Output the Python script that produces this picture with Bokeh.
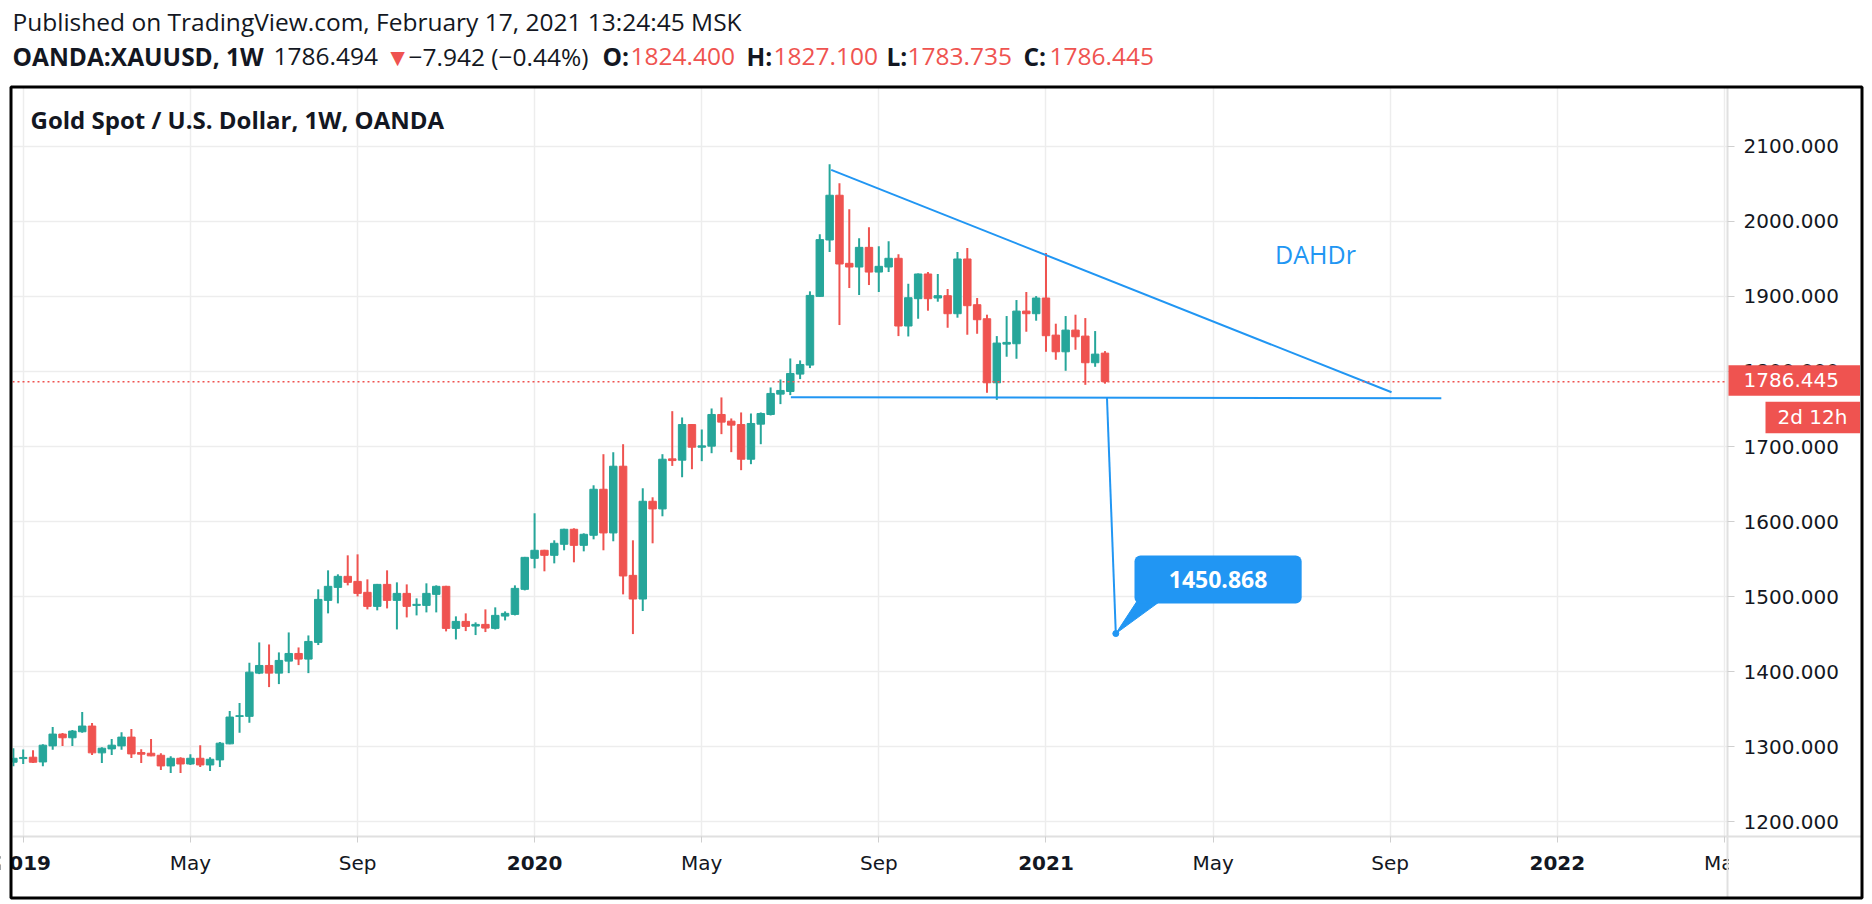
import pandas as pd
from bokeh.plotting import figure
from bokeh.models import (Label, BoxAnnotation, FixedTicker, NumeralTickFormatter,
                          Range1d, ColumnDataSource, Span, GridBox)
from bokeh.core.properties import value
from bokeh.embed import file_html
from bokeh.resources import INLINE

# ---------------- data (weekly OANDA:XAUUSD candles) -------------
start_week = "2018-12-31"
opens = [1279.5, 1284.4, 1286.2, 1279.9, 1301.3, 1317.0, 1312.1, 1320.1, 1327.7, 1292.0,
         1297.3, 1301.3, 1313.0, 1292.4, 1291.5, 1288.8, 1274.6, 1284.8, 1277.2, 1284.8,
         1275.9, 1282.6, 1304.0, 1340.5, 1340.6, 1398.2, 1408.4, 1398.2, 1414.2, 1424.4,
         1416.9, 1439.1, 1495.1, 1512.4, 1527.1, 1520.4, 1505.8, 1487.1, 1516.4, 1495.1,
         1504.4, 1488.4, 1488.4, 1503.1, 1513.8, 1457.8, 1467.1, 1460.9, 1463.1, 1457.8,
         1474.2, 1476.4, 1509.8, 1551.1, 1561.8, 1555.1, 1569.8, 1589.8, 1568.4, 1581.8,
         1643.1, 1584.9, 1673.8, 1528.4, 1496.9, 1627.1, 1616.9, 1683.6, 1681.8, 1729.3,
         1699.1, 1700.5, 1742.7, 1733.8, 1729.3, 1683.1, 1729.8, 1742.7, 1769.8, 1773.3,
         1796.5, 1808.5, 1900.0, 1975.1, 2034.7, 1944.0, 1939.1, 1965.3, 1932.4, 1939.1,
         1950.7, 1860.5, 1896.9, 1929.8, 1897.8, 1900.9, 1876.9, 1949.8, 1888.9, 1870.2,
         1784.9, 1836.4, 1836.9, 1880.4, 1876.9, 1897.8, 1848.4, 1826.2, 1855.1, 1847.1,
         1811.6, 1824.4]
highs = [1298.2, 1296.4, 1295.5, 1303.6, 1326.3, 1318.3, 1322.3, 1346.4, 1331.7, 1299.6,
         1310.3, 1319.6, 1323.7, 1296.9, 1310.3, 1291.5, 1287.5, 1286.2, 1290.2, 1302.2,
         1286.2, 1306.3, 1347.8, 1358.5, 1412.0, 1439.1, 1436.4, 1425.8, 1452.4, 1432.4,
         1448.4, 1509.8, 1535.1, 1529.8, 1555.1, 1556.4, 1523.1, 1517.0, 1535.1, 1519.1,
         1516.4, 1497.8, 1517.8, 1515.1, 1514.5, 1473.8, 1477.8, 1465.8, 1483.1, 1485.8,
         1480.4, 1515.1, 1553.0, 1611.1, 1562.5, 1575.1, 1590.5, 1591.1, 1584.4, 1648.4,
         1689.8, 1692.4, 1703.1, 1575.1, 1644.4, 1632.4, 1689.8, 1747.1, 1738.7, 1730.0,
         1722.7, 1750.7, 1765.4, 1737.4, 1745.4, 1744.0, 1745.4, 1778.7, 1789.3, 1817.3,
         1814.7, 1906.7, 1982.7, 2076.0, 2050.7, 2016.0, 1977.3, 1992.0, 1966.7, 1973.3,
         1956.0, 1916.8, 1930.5, 1932.4, 1929.8, 1909.8, 1959.1, 1964.4, 1897.8, 1875.6,
         1847.1, 1873.8, 1895.1, 1905.8, 1900.4, 1957.8, 1863.6, 1873.8, 1875.6, 1871.1,
         1853.8, 1827.1]
lows = [1274.1, 1277.2, 1278.6, 1274.1, 1296.0, 1301.3, 1301.3, 1318.8, 1289.3, 1278.6,
        1289.3, 1296.0, 1285.3, 1278.6, 1287.5, 1269.2, 1265.2, 1265.2, 1275.9, 1273.2,
        1267.9, 1273.2, 1303.5, 1318.8, 1332.1, 1396.9, 1379.6, 1383.6, 1398.2, 1408.9,
        1398.2, 1435.6, 1477.8, 1491.1, 1515.1, 1500.4, 1483.1, 1481.8, 1484.4, 1456.4,
        1472.4, 1475.1, 1479.1, 1479.1, 1453.8, 1443.1, 1454.2, 1448.9, 1452.9, 1456.4,
        1468.4, 1475.1, 1508.4, 1537.8, 1533.8, 1544.4, 1561.8, 1545.8, 1560.4, 1576.4,
        1561.8, 1573.8, 1503.1, 1450.2, 1480.9, 1571.1, 1607.1, 1674.2, 1659.1, 1669.8,
        1680.5, 1691.1, 1716.5, 1692.5, 1668.5, 1676.5, 1703.1, 1741.4, 1756.5, 1768.5,
        1789.8, 1804.5, 1899.5, 1959.1, 1861.8, 1911.1, 1901.8, 1915.1, 1905.8, 1932.4,
        1847.1, 1846.6, 1870.2, 1880.9, 1892.9, 1858.2, 1871.6, 1848.9, 1850.2, 1771.6,
        1762.2, 1819.6, 1816.9, 1852.9, 1867.6, 1826.2, 1815.6, 1800.9, 1828.9, 1782.2,
        1806.2, 1783.735]
closes = [1284.8, 1285.9, 1279.5, 1302.2, 1317.0, 1312.1, 1321.0, 1327.7, 1292.0, 1298.2,
          1302.2, 1313.0, 1290.6, 1290.2, 1288.0, 1274.6, 1284.8, 1277.2, 1284.8, 1275.9,
          1283.5, 1304.9, 1339.7, 1341.5, 1399.5, 1408.4, 1398.2, 1415.1, 1424.4, 1416.9,
          1440.4, 1496.4, 1513.8, 1527.1, 1519.1, 1504.4, 1487.1, 1516.4, 1495.1, 1504.4,
          1487.1, 1489.8, 1504.4, 1513.8, 1457.8, 1467.1, 1460.4, 1463.1, 1458.2, 1475.1,
          1477.8, 1511.1, 1552.4, 1561.8, 1555.1, 1571.1, 1589.8, 1568.4, 1583.1, 1643.1,
          1584.9, 1673.8, 1527.6, 1496.9, 1627.1, 1616.9, 1683.1, 1681.3, 1729.3, 1699.1,
          1700.9, 1742.7, 1732.5, 1728.5, 1683.1, 1730.7, 1744.0, 1770.7, 1774.7, 1797.3,
          1809.3, 1901.3, 1975.6, 2034.7, 1943.1, 1939.1, 1965.3, 1932.4, 1940.0, 1950.7,
          1860.5, 1898.2, 1929.8, 1896.9, 1900.9, 1876.9, 1949.8, 1887.6, 1868.9, 1784.9,
          1837.8, 1838.7, 1880.4, 1876.9, 1897.8, 1847.6, 1826.2, 1855.1, 1846.2, 1811.6,
          1823.1, 1786.445]

last_price = 1786.445
target_price = 1450.868
price_ticks = [1200, 1300, 1400, 1500, 1600, 1700, 1800, 1900, 2000, 2100]
time_tick_dates = ["2019-01-07", "2019-05-06", "2019-09-02", "2020-01-06", "2020-05-04",
                   "2020-09-07", "2021-01-04", "2021-05-03", "2021-09-06", "2022-01-03",
                   "2022-05-02"]
time_tick_labels = ["2019", "May", "Sep", "2020", "May", "Sep", "2021", "May", "Sep",
                    "2022", "May"]

# drawings (week index k, 1 = first candle) and prices
trend_k = [84.16, 141.14]
trend_p = [2068.5, 1772.3]
support_k = [80.06, 146.2]
support_p = [1765.6, 1764.4]
proj_k = [112.2, 113.1]
proj_p = [1765.9, target_price]

# ---------------- helpers -------------
T0 = pd.Timestamp(start_week)
def k2ms(k):
    return (T0 + pd.Timedelta(days=7 * (k - 1))).value / 1e6

WEEK = 7 * 24 * 3600 * 1000
UP, DOWN = "#26a69a", "#ef5350"
BLUE = "#2196f3"
TXT = "#131722"
HFONT = "Open Sans"
AXFONT = "DejaVu Sans"
W, H = 1872, 904
FR_L, FR_R, FR_T, FR_B = 12, 1727, 87, 836     # main frame in page pixels
X0, X1 = k2ms(0.912), k2ms(175.3)
Y0, Y1 = 1180.6, 2178.2

def px(ms):
    return FR_L + (ms - X0) / (X1 - X0) * (FR_R - FR_L)
def py(v):
    return FR_T + (Y1 - v) / (Y1 - Y0) * (FR_B - FR_T)

dates = pd.date_range(start_week, periods=len(opens), freq="7D")
df = pd.DataFrame(dict(x=dates, o=opens, h=highs, l=lows, c=closes))
df["top"] = df[["o", "c"]].max(axis=1)
df["bot"] = df[["o", "c"]].min(axis=1)
up = df[df.c >= df.o]
dn = df[df.c < df.o]

# ======================= main chart =======================
p = figure(width=W, height=H, x_axis_type="datetime", y_axis_location="right",
           x_range=Range1d(X0, X1), y_range=Range1d(Y0, Y1),
           output_backend="svg", toolbar_location=None, frame_align=False,
           min_border_left=FR_L, min_border_right=W - FR_R, min_border_top=FR_T,
           min_border_bottom=H - FR_B,
           background_fill_color="white", border_fill_color="white", outline_line_color=None)
p.title.visible = False

p.xgrid.grid_line_color = "#ededed"
p.ygrid.grid_line_color = "#ededed"
p.xgrid.grid_line_width = 1.5
p.ygrid.grid_line_width = 1.5

tick_ms = [int(k2ms(1) + (pd.Timestamp(d) - T0).days * 86400000) for d in time_tick_dates]
p.xaxis.ticker = FixedTicker(ticks=tick_ms)
p.xaxis.major_label_overrides = {t: (lab if not lab.isdigit() else " ")
                                 for t, lab in zip(tick_ms, time_tick_labels)}
p.xaxis.minor_tick_line_color = None
p.xaxis.major_tick_out = 6
p.xaxis.major_tick_in = 0
p.xaxis.major_tick_line_color = "#cfcfcf"
p.xaxis.axis_line_color = "#e0e0e0"
p.xaxis.axis_line_width = 2
p.xaxis.major_label_text_font = AXFONT
p.xaxis.major_label_text_font_size = "20px"
p.xaxis.major_label_text_color = TXT
p.xaxis.major_label_standoff = 8

p.yaxis.ticker = FixedTicker(ticks=price_ticks)
p.yaxis.formatter = NumeralTickFormatter(format="0.000")
p.yaxis.minor_tick_line_color = None
p.yaxis.major_tick_out = 7
p.yaxis.major_tick_in = 0
p.yaxis.major_tick_line_color = "#cfcfcf"
p.yaxis.axis_line_color = "#e0e0e0"
p.yaxis.axis_line_width = 2
p.yaxis.major_label_text_font = AXFONT
p.yaxis.major_label_text_font_size = "20px"
p.yaxis.major_label_text_color = TXT
p.yaxis.major_label_standoff = 9

for d, col in ((up, UP), (dn, DOWN)):
    src = ColumnDataSource(dict(x=d.x, h=d.h, l=d.l, top=d.top, bot=d.bot))
    p.segment(x0="x", y0="l", x1="x", y1="h", source=src, line_color=col, line_width=2)
    p.vbar(x="x", width=0.76 * WEEK, top="top", bottom="bot", source=src,
           fill_color=col, line_color=col, line_width=1)

p.add_layout(Span(location=last_price, dimension="width", line_color=DOWN,
                  line_dash="2 3", line_width=1.5))

p.line([k2ms(k) for k in trend_k], trend_p, line_color=BLUE, line_width=2)
p.line([k2ms(k) for k in support_k], support_p, line_color=BLUE, line_width=2)
p.line([k2ms(k) for k in proj_k], proj_p, line_color=BLUE, line_width=2)
p.scatter([k2ms(proj_k[1])], [target_price], size=6, color=BLUE)

p.patch([k2ms(113.1), k2ms(115.3), k2ms(117.7)],
        [target_price, target_price + 44, target_price + 44], color=BLUE)
p.add_layout(BoxAnnotation(left=k2ms(115.0), right=k2ms(132.0),
                           top=target_price + 104, bottom=target_price + 40,
                           fill_color=BLUE, fill_alpha=1, line_color=None, border_radius=6))
p.add_layout(Label(x=k2ms(123.5), y=target_price + 72, text=f"{target_price:.3f}",
                   text_align="center", text_baseline="middle", text_color="white",
                   text_font=HFONT, text_font_style="bold", text_font_size="23px"))
p.add_layout(Label(x=k2ms(129.3), y=1957, text="DAHDr", text_align="left",
                   text_baseline="middle", text_color=BLUE, text_font=HFONT,
                   text_font_size="25px"))

# ======================= overlay (page-pixel coordinates) =======================
ov = figure(width=W, height=H, x_range=Range1d(0, W), y_range=Range1d(H, 0),
            output_backend="svg", toolbar_location=None, min_border=0, frame_align=False,
            x_axis_location=None, y_axis_location=None,
            background_fill_color=None, border_fill_color=None, outline_line_color=None)
ov.title.visible = False
ov.grid.visible = False

def txt(x, y, s, size, color=TXT, bold=False, align="left", font=HFONT):
    ov.text(x=[x], y=[y], text=[s], text_font=value(font), text_font_size=size,
            text_color=color, text_font_style="bold" if bold else "normal",
            text_align=align, text_baseline="middle")

def box(x0, y0, x1, y1, color, **kw):
    ov.quad(left=[x0], right=[x1], top=[y0], bottom=[y1], fill_color=color,
            line_color=None, **kw)

# bold year labels on the time axis
for t, lab in zip(tick_ms, time_tick_labels):
    if lab.isdigit():
        txt(px(t), 862, lab, "20px", bold=True, align="center", font=AXFONT)

# covers (clip time-axis text at the chart border / price scale) and separators
box(0, FR_B, 9.5, H, "white")
box(FR_R + 1.5, FR_B + 1.5, 1860.5, 896.5, "white")
box(FR_R - 1, FR_B, FR_R + 1, 897, "#e0e0e0")
box(FR_R, FR_B - 1, 1860.5, FR_B + 1, "#e0e0e0")

# last price and countdown boxes on the price scale
yl = py(last_price)
box(FR_R + 1, yl - 16.5, 1859.5, yl + 14, DOWN)
txt(1743, yl - 1.5, f"{last_price:.3f}", "20px", color="white", font=AXFONT)
box(1765, yl + 20, 1859.5, yl + 51.5, DOWN)
txt(1777, yl + 35.5, "2d 12h", "20px", color="white", font=AXFONT)

# outer black frame
ov.quad(left=[10.5], right=[1861.5], top=[86.5], bottom=[897.5], fill_alpha=0,
        line_color="black", line_width=3)

# header
HS = "24.5px"
txt(12, 21, "Published on TradingView.com, February 17, 2021 13:24:45 MSK", HS)
hdr = [(12, "OANDA:XAUUSD, 1W", TXT, True), (273, "1786.494", TXT, False),
       (385, "\u25BC", DOWN, False),
       (408, "\u22127.942 (\u22120.44%)", TXT, False),
       (602, "O:", TXT, True), (630, "1824.400", DOWN, False),
       (746, "H:", TXT, True), (773, "1827.100", DOWN, False),
       (886, "L:", TXT, True), (907, "1783.735", DOWN, False),
       (1023, "C:", TXT, True), (1049, "1786.445", DOWN, False)]
for cx, t, col, b in hdr:
    txt(cx, 56, t, HS, color=col, bold=b)
txt(30, 119, "Gold Spot / U.S. Dollar, 1W, OANDA", "24px", bold=True)

layout = GridBox(children=[(p, 0, 0), (ov, 0, 0)])
open("out.html", "w").write(file_html(layout, INLINE))
